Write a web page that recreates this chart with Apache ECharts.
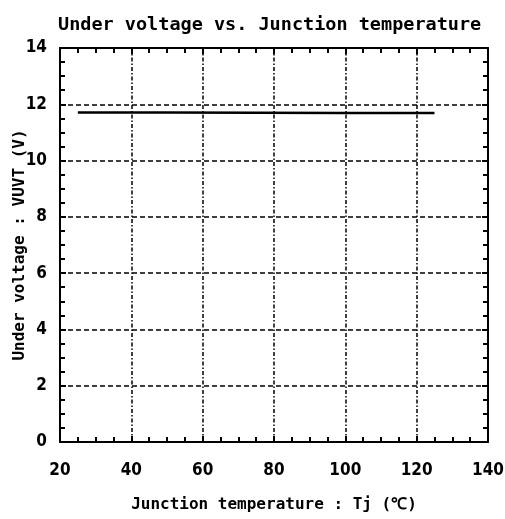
<!DOCTYPE html>
<html>
<head>
<meta charset="utf-8">
<script src="https://cdn.jsdelivr.net/npm/echarts@6/dist/echarts.min.js"></script>
<style>html,body{margin:0;padding:0;background:#fff}#c{width:505px;height:519px}</style>
</head>
<body>
<div id="c"></div>
<script>
var titleText = 'Under voltage vs. Junction temperature';
var xName = 'Junction temperature : Tj (\u2103)';
var yName = 'Under voltage : VUVT (V)';
var temps = [25, 50, 75, 100, 125];
var vuvt = [11.71, 11.71, 11.70, 11.69, 11.69];
var xMin = 20, xMax = 140, xStep = 20;
var yMin = 0, yMax = 14, yStep = 2;

var monoFont = "'DejaVu Sans Mono', monospace";
var numFont = "'DejaVu Sans Condensed', 'DejaVu Sans', sans-serif";
var chart = echarts.init(document.getElementById('c'), null, {renderer: 'canvas'});

function axisBase(showLabels, pos) {
  return {
    position: pos,
    axisLine: {show: true, onZero: false, lineStyle: {color: '#000', width: 2}},
    axisTick: {show: true, inside: true, length: 6, lineStyle: {color: '#000', width: 2}},
    minorTick: {show: true, splitNumber: 4, length: 5, lineStyle: {color: '#000', width: 2}},
    axisLabel: {show: showLabels, color: '#000', fontFamily: numFont, fontSize: 17, fontWeight: 'bold'},
    splitLine: {show: false}
  };
}

var xBottom = Object.assign(axisBase(true, 'bottom'), {
  type: 'value', min: xMin, max: xMax, interval: xStep,
  name: xName, nameLocation: 'middle', nameGap: 55, nameMoveOverlap: false,
  nameTextStyle: {color: '#000', fontFamily: monoFont, fontSize: 16, fontWeight: 'bold'},
  splitLine: {show: true, lineStyle: {color: '#000', width: 1.5, type: [4, 2, 1.5, 2]}}
});
xBottom.axisLabel.margin = 20;
var xTop = Object.assign(axisBase(false, 'top'), {type: 'value', min: xMin, max: xMax, interval: xStep});

var yLeft = Object.assign(axisBase(true, 'left'), {
  type: 'value', min: yMin, max: yMax, interval: yStep,
  name: yName, nameLocation: 'middle', nameGap: 32, nameMoveOverlap: false,
  nameTextStyle: {color: '#000', fontFamily: monoFont, fontSize: 16, fontWeight: 'bold'},
  splitLine: {show: true, lineStyle: {color: '#000', width: 1.5, type: [5, 3]}}
});
yLeft.axisLabel.margin = 13;
var yRight = Object.assign(axisBase(false, 'right'), {type: 'value', min: yMin, max: yMax, interval: yStep});

chart.setOption({
  animation: false,
  backgroundColor: '#fff',
  title: {
    text: titleText, left: 53, top: 11,
    textStyle: {color: '#000', fontFamily: monoFont, fontSize: 18.5, fontWeight: 'bold'}
  },
  grid: {left: 60, right: 17, top: 48, bottom: 77, containLabel: false, outerBoundsMode: 'none'},
  xAxis: [xBottom, xTop],
  yAxis: [yLeft, yRight],
  series: [{
    type: 'line',
    xAxisIndex: 0, yAxisIndex: 0,
    data: temps.map(function (t, i) { return [t, vuvt[i]]; }),
    showSymbol: false,
    lineStyle: {color: '#000', width: 2.5}
  }]
});
</script>
</body>
</html>
